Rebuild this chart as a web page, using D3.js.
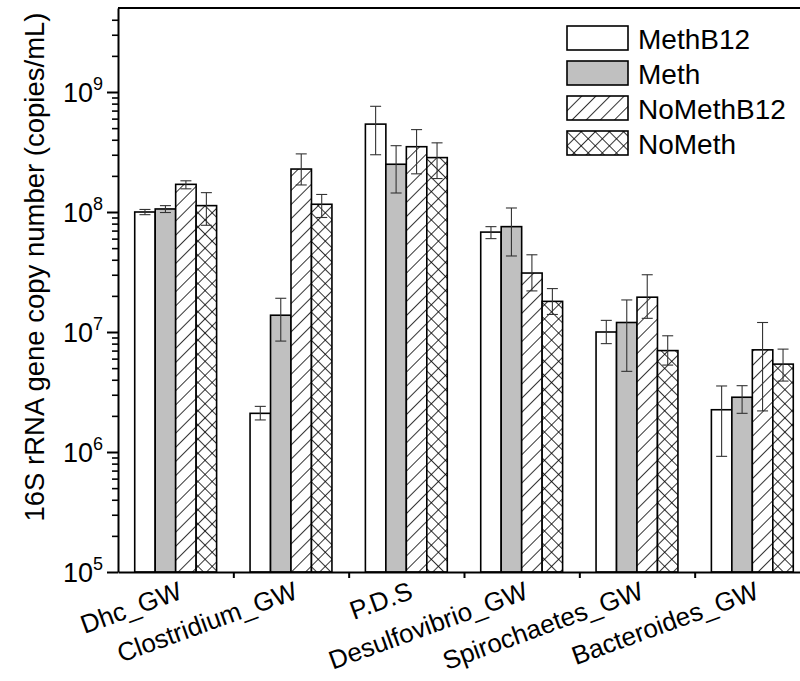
<!DOCTYPE html>
<html>
<head>
<meta charset="utf-8">
<script src="https://cdn.jsdelivr.net/npm/d3@7"></script>
<style>
  html, body { margin: 0; padding: 0; background: #fff; }
  svg { display: block; font-family: "Liberation Sans", Arial, sans-serif; }
</style>
</head>
<body>
<svg id="chart" width="800" height="681"></svg>
<script>
// ---------- data ----------
const categories = ["Dhc_GW", "Clostridium_GW", "P.D.S", "Desulfovibrio_GW", "Spirochaetes_GW", "Bacteroides_GW"];
const seriesNames = ["MethB12", "Meth", "NoMethB12", "NoMeth"];

const methB12     = [1.00e8, 2.10e6, 5.40e8, 6.80e7, 1.00e7, 2.25e6];
const methB12Hi   = [1.05e8, 2.40e6, 7.60e8, 7.55e7, 1.25e7, 3.55e6];
const methB12Lo   = [0.95e8, 1.85e6, 3.00e8, 6.00e7, 0.80e7, 0.92e6];

const meth        = [1.06e8, 1.38e7, 2.50e8, 7.55e7, 1.20e7, 2.86e6];
const methHi      = [1.13e8, 1.91e7, 3.57e8, 1.08e8, 1.85e7, 3.57e6];
const methLo      = [0.99e8, 8.40e6, 1.44e8, 4.30e7, 4.70e6, 2.10e6];

const noMethB12   = [1.70e8, 2.28e8, 3.50e8, 3.10e7, 1.95e7, 7.10e6];
const noMethB12Hi = [1.82e8, 3.05e8, 4.86e8, 4.40e7, 3.00e7, 1.20e7];
const noMethB12Lo = [1.56e8, 1.68e8, 2.08e8, 2.20e7, 1.30e7, 2.20e6];

const noMeth      = [1.13e8, 1.16e8, 2.84e8, 1.80e7, 7.00e6, 5.40e6];
const noMethHi    = [1.45e8, 1.40e8, 3.77e8, 2.30e7, 9.30e6, 7.20e6];
const noMethLo    = [7.75e7, 0.90e8, 1.90e8, 1.40e7, 5.30e6, 3.90e6];

const majorTicks = [1e5, 1e6, 1e7, 1e8, 1e9];
const majorExp   = ["5", "6", "7", "8", "9"];
const yTitle = "16S rRNA gene copy number (copies/mL)";

// ---------- layout ----------
const svg = d3.select("#chart");
const left = 118, bottom = 572, decade = 120;
const yTopVal = 5e9;
const topY = bottom - decade * Math.log10(yTopVal / 1e5);

const y = d3.scaleLog().domain([1e5, yTopVal]).range([bottom, topY]);
const x = d3.scaleBand().domain(categories).range([left, 810])
  .paddingInner(0.29).paddingOuter(0.145);
const xs = d3.scaleBand().domain(seriesNames).range([0, x.bandwidth()]);

// ---------- patterns ----------
const defs = svg.append("defs");
const sp = 10;
const diag = defs.append("pattern").attr("id", "diag")
  .attr("patternUnits", "userSpaceOnUse").attr("width", sp).attr("height", sp)
  .attr("patternTransform", "rotate(45)");
diag.append("rect").attr("width", sp).attr("height", sp).attr("fill", "#fff");
diag.append("line").attr("x1", 0).attr("y1", 0).attr("x2", 0).attr("y2", sp)
  .attr("stroke", "#000").attr("stroke-width", 1.6);
const cross = defs.append("pattern").attr("id", "cross")
  .attr("patternUnits", "userSpaceOnUse").attr("width", sp).attr("height", sp)
  .attr("patternTransform", "rotate(45)");
cross.append("rect").attr("width", sp).attr("height", sp).attr("fill", "#fff");
cross.append("line").attr("x1", 0).attr("y1", 0).attr("x2", 0).attr("y2", sp)
  .attr("stroke", "#000").attr("stroke-width", 1.6);
cross.append("line").attr("x1", 0).attr("y1", 0).attr("x2", sp).attr("y2", 0)
  .attr("stroke", "#000").attr("stroke-width", 1.6);

const fills = { "MethB12": "#ffffff", "Meth": "#c0c0c0", "NoMethB12": "url(#diag)", "NoMeth": "url(#cross)" };
const seriesData = {
  "MethB12":   { v: methB12,   hi: methB12Hi,   lo: methB12Lo },
  "Meth":      { v: meth,      hi: methHi,      lo: methLo },
  "NoMethB12": { v: noMethB12, hi: noMethB12Hi, lo: noMethB12Lo },
  "NoMeth":    { v: noMeth,    hi: noMethHi,    lo: noMethLo }
};

// ---------- bars ----------
const bars = [];
seriesNames.forEach(s => {
  categories.forEach((c, i) => {
    bars.push({ s, c, v: seriesData[s].v[i], hi: seriesData[s].hi[i], lo: seriesData[s].lo[i] });
  });
});

const g = svg.append("g");
g.selectAll("rect.bar").data(bars).join("rect")
  .attr("class", "bar")
  .attr("x", d => x(d.c) + xs(d.s))
  .attr("y", d => y(d.v))
  .attr("width", xs.bandwidth())
  .attr("height", d => bottom - y(d.v))
  .attr("fill", d => fills[d.s])
  .attr("stroke", "#000").attr("stroke-width", 1.6);

// error bars
const cap = 5.5;
const cx = d => x(d.c) + xs(d.s) + xs.bandwidth() / 2;
const eb = g.selectAll("g.err").data(bars).join("g").attr("class", "err")
  .attr("stroke", "#333").attr("stroke-width", 1.1);
eb.append("line").attr("x1", cx).attr("x2", cx)
  .attr("y1", d => y(d.hi)).attr("y2", d => y(d.lo));
eb.append("line").attr("x1", d => cx(d) - cap).attr("x2", d => cx(d) + cap)
  .attr("y1", d => y(d.hi)).attr("y2", d => y(d.hi));
eb.append("line").attr("x1", d => cx(d) - cap).attr("x2", d => cx(d) + cap)
  .attr("y1", d => y(d.lo)).attr("y2", d => y(d.lo));

// ---------- axes ----------
const minorTicks = [];
for (let e = 5; e <= 9; e++) for (let k = 2; k <= 9; k++) {
  const v = k * Math.pow(10, e);
  if (v < yTopVal) minorTicks.push(v);
}
const axMinor = svg.append("g").attr("transform", `translate(${left},0)`)
  .call(d3.axisLeft(y).tickValues(minorTicks).tickSize(6).tickSizeOuter(0).tickFormat(""));
axMinor.select(".domain").remove();
axMinor.selectAll(".tick line").attr("stroke", "#000").attr("stroke-width", 1.6);

const axMajor = svg.append("g").attr("transform", `translate(${left},0)`)
  .call(d3.axisLeft(y).tickValues(majorTicks).tickSize(11).tickSizeOuter(0).tickFormat(""));
axMajor.select(".domain").attr("stroke", "#000").attr("stroke-width", 2);
axMajor.selectAll(".tick line").attr("stroke", "#000").attr("stroke-width", 2);

// major labels with superscripts
const lab = svg.append("g").selectAll("text").data(majorTicks).join("text")
  .attr("x", 63).attr("y", d => y(d) + 10)
  .attr("font-size", 27).attr("fill", "#000");
lab.append("tspan").text("10");
lab.append("tspan").attr("font-size", 18).attr("dy", -12).text((d, i) => majorExp[i]);

// top frame line
svg.append("line").attr("x1", left).attr("x2", 800).attr("y1", topY).attr("y2", topY)
  .attr("stroke", "#000").attr("stroke-width", 2);

// bottom axis
const step = x.step();
const boundaries = categories.slice(1).map(c => x(c) - step * x.paddingInner() / 2);
const axB = svg.append("g").attr("transform", `translate(0,${bottom})`)
  .call(d3.axisBottom(d3.scaleLinear().domain([left, 800]).range([left, 800]))
    .tickValues(boundaries).tickSize(6).tickSizeOuter(0).tickFormat(""));
axB.select(".domain").attr("stroke", "#000").attr("stroke-width", 2);
axB.selectAll(".tick line").attr("stroke", "#000").attr("stroke-width", 2);

// category labels
svg.append("g").selectAll("text").data(categories).join("text")
  .attr("transform", d => `translate(${x(d) + x.bandwidth() / 2 + 8},${bottom + 26}) rotate(-20)`)
  .attr("text-anchor", "end").attr("font-size", 26).attr("fill", "#000")
  .text(d => d);

// y title
svg.append("text")
  .attr("transform", `translate(44,267) rotate(-90)`)
  .attr("text-anchor", "middle").attr("font-size", 27.5).attr("fill", "#000")
  .text(yTitle);

// ---------- legend ----------
const lg = svg.append("g").selectAll("g").data(seriesNames).join("g")
  .attr("transform", (d, i) => `translate(567,${26 + i * 35})`);
lg.append("rect").attr("width", 61).attr("height", 24)
  .attr("fill", d => fills[d]).attr("stroke", "#000").attr("stroke-width", 1.6);
lg.append("text").attr("x", 71).attr("y", 22.5).attr("font-size", 28).attr("fill", "#000")
  .text(d => d);
</script>
</body>
</html>
